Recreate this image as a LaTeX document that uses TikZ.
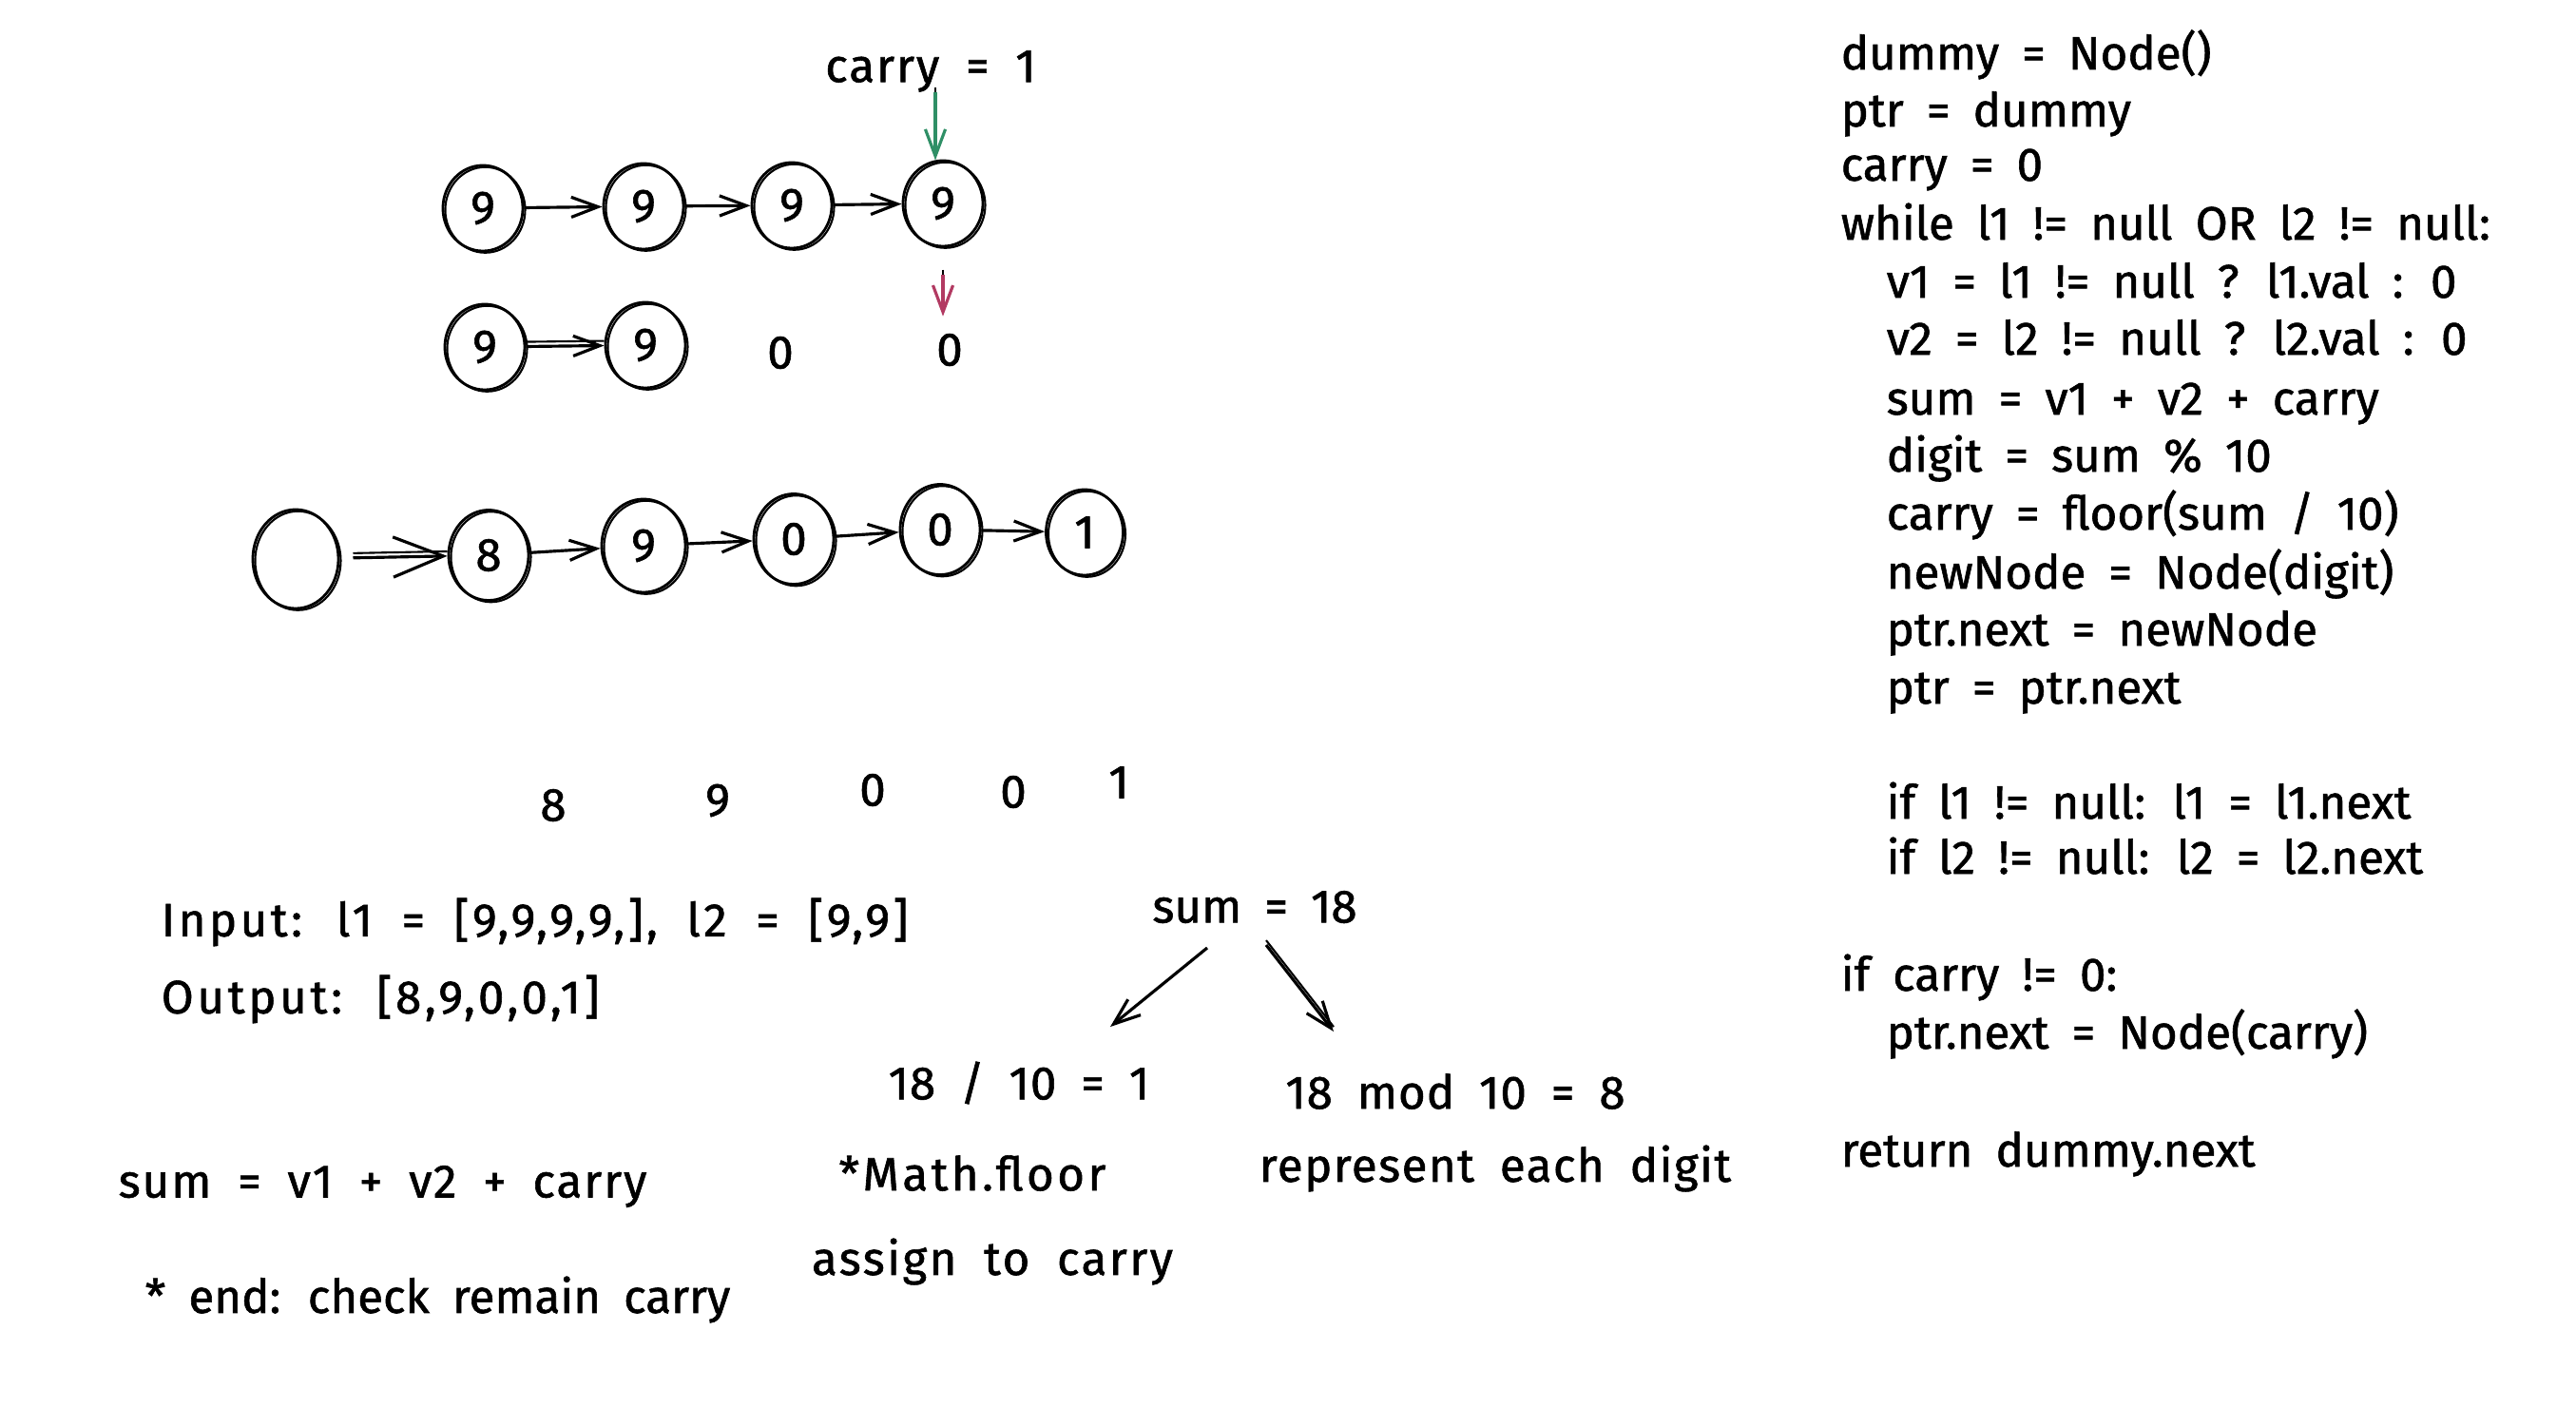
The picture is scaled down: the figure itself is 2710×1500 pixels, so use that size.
\documentclass[tikz,border=0pt]{standalone}
\usepackage{fontspec}
\setmainfont{Fira Sans}[WordSpace=1.85,FakeBold=1.2]
\usetikzlibrary{arrows.meta,shapes.geometric,calc}
\definecolor{sgreen}{HTML}{2F8F66}
\definecolor{sred}{HTML}{B23A62}
\begin{document}
\begin{tikzpicture}[x=0.01cm,y=-0.01cm,
  every node/.style={font=\fontsize{14}{17}\selectfont, inner sep=0pt},
  ls/.style={font=\fontsize{14}{17}\selectfont\addfontfeatures{LetterSpace=#1}},
  llnode/.style={ellipse, draw, line width=0.8pt, minimum width=0.84cm, minimum height=0.9cm,
    preaction={draw, line width=0.6pt, transform canvas={xshift=0.7pt,yshift=-0.5pt}}},
  arr/.style={-{Straight Barb[length=8pt,width=6pt]}, line width=0.9pt},
  bigarr/.style={-{Straight Barb[length=15pt,width=12pt]}, line width=0.9pt},
  dbl/.style={preaction={draw, -, line width=0.6pt, transform canvas={yshift=1.4pt}}},
  garr/.style={arr, draw=sgreen, dbl},
  rarr/.style={arr, draw=sred, dbl},
  code/.style={anchor=base west},
  note/.style={anchor=west}]
\useasboundingbox (0,0) rectangle (2710,1500);

% top: l1
\node[ls=4] (carry1) at (979,75) {carry = 1};
\node[llnode] (t1) at (508,219) {9};
\node[llnode] (t2) at (677,217) {9};
\node[llnode] (t3) at (833,216) {9};
\node[llnode] (t4) at (992,214) {9};
\draw[arr] (t1) -- (t2);
\draw[arr] (t2) -- (t3);
\draw[arr] (t3) -- (t4);
\draw[garr] ($(carry1.south -| t4.north)+(-8,0)$) -- ($(t4.north)+(-8,1)$);

% l2
\node[llnode] (s1) at (510,365) {9};
\node[llnode] (s2) at (679,363) {9};
\node (z1) at (821,371) {0};
\node (z2) at (999,368) {0};
\draw[arr, dbl] (s1) -- (s2);
\draw[rarr] ([yshift=-8pt]t4.south) -- ([yshift=5pt]t4.south |- z2.north);

% result list
\node[llnode, minimum width=0.9cm, minimum height=1.04cm] (e0) at (311,588) {};
\node[llnode, minimum height=0.95cm] (r1) at (514,584) {8};
\node[llnode, minimum width=0.88cm, minimum height=0.98cm] (r2) at (677,574) {9};
\node[llnode, minimum height=0.95cm] (r3) at (835,567) {0};
\node[llnode, minimum height=0.95cm] (r4) at (989,557) {0};
\node[llnode, minimum width=0.81cm, minimum height=0.9cm] (r5) at (1141,560) {1};
\draw[bigarr, dbl, shorten <=4pt] (e0) -- (r1);
\draw[arr] (r1) -- (r2);
\draw[arr] (r2) -- (r3);
\draw[arr] (r3) -- (r4);
\draw[arr] (r4) -- (r5);

% digits
\node (d1) at (582,847) {8};
\node (d2) at (755,842) {9};
\node (d3) at (918,831) {0};
\node (d4) at (1066,833) {0};
\node (d5) at (1177,823) {1};

% notes
\node[note, ls=7] (inp) at (169,970) {Input: l1 = [9,9,9,9,], l2 = [9,9]};
\node[note, ls=7.5] (outp) at (169,1051) {Output: [8,9,0,0,1]};
\node[note, ls=4] (sumf) at (124,1248) {sum = v1 + v2 + carry};
\node[note] (endn) at (152,1367) {* end: check remain carry};

\node (sum18) at (1320,954) {sum = 18};
\node[ls=2] (div) at (1072,1139) {18 / 10 = 1};
\node[ls=2] (mod) at (1531,1148) {18 mod 10 = 8};
\node[ls=7] (floorn) at (1023,1234) {*Math.floor};
\node[ls=3] (repr) at (1573,1229) {represent each digit};
\node[ls=5] (assign) at (1044,1327) {assign to carry};
\draw[arr] ($(sum18)+(-50,43)$) -- ($(div)+(96,-59)$);
\draw[arr, dbl] ($(sum18)+(12,40)$) -- ($(mod)+(-128,-63)$);

% code
\node[code] (c1) at (1936,73) {dummy = Node()};
\node[code] (c2) at (1936,133) {ptr = dummy};
\node[code] (c3) at (1936,190) {carry = 0};
\node[code] (c4) at (1936,252) {while l1 != null OR l2 != null:};
\node[code] (c5) at (1984,313) {v1 = l1 != null ? l1.val : 0};
\node[code] (c6) at (1984,373) {v2 = l2 != null ? l2.val : 0};
\node[code] (c7) at (1984,436) {sum = v1 + v2 + carry};
\node[code] (c8) at (1984,496) {digit = sum \% 10};
\node[code] (c9) at (1984,557) {carry = floor(sum / 10)};
\node[code] (c10) at (1984,619) {newNode = Node(digit)};
\node[code] (c11) at (1984,679) {ptr.next = newNode};
\node[code] (c12) at (1984,740) {ptr = ptr.next};
\node[code] (c13) at (1984,861) {if l1 != null: l1 = l1.next};
\node[code] (c14) at (1984,919) {if l2 != null: l2 = l2.next};
\node[code] (c15) at (1936,1042) {if carry != 0:};
\node[code] (c16) at (1984,1103) {ptr.next = Node(carry)};
\node[code] (c17) at (1936,1227) {return dummy.next};
\end{tikzpicture}
\end{document}
